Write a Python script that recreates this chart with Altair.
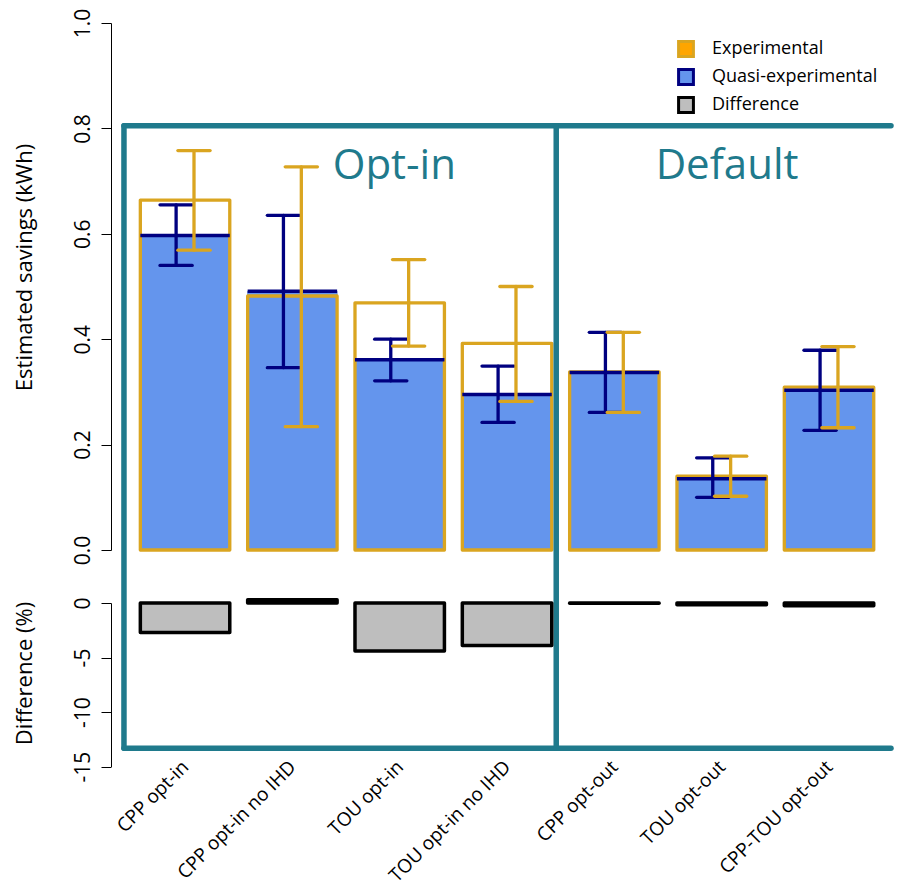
import altair as alt
import pandas as pd

# ---------------- data ----------------
categories = ["CPP opt-in", "CPP opt-in no IHD", "TOU opt-in", "TOU opt-in no IHD",
              "CPP opt-out", "TOU opt-out", "CPP-TOU opt-out"]
exp_est = [0.664, 0.482, 0.469, 0.392, 0.338, 0.140, 0.309]
exp_lo = [0.569, 0.234, 0.387, 0.282, 0.261, 0.102, 0.232]
exp_hi = [0.758, 0.727, 0.551, 0.500, 0.413, 0.178, 0.386]
quasi_est = [0.597, 0.491, 0.361, 0.295, 0.337, 0.135, 0.303]
quasi_lo = [0.540, 0.346, 0.321, 0.242, 0.261, 0.100, 0.227]
quasi_hi = [0.655, 0.635, 0.400, 0.349, 0.413, 0.175, 0.379]
diff_pct = [-2.7, 0.3, -4.4, -3.9, -0.03, -0.15, -0.25]
legend_labels = ["Experimental", "Quasi-experimental", "Difference"]
group_labels = ["Opt-in", "Default"]
top_ticks = [0.0, 0.2, 0.4, 0.6, 0.8, 1.0]
bottom_ticks = [0, -5, -10, -15]

# ---------------- layout / style ----------------
n = len(categories)
pos = [0.7 + 1.2 * i for i in range(n)]          # barplot midpoints (width 1, space 0.2)
X_MIN, X_MAX = -0.128, 8.593
W = 780
H_TOP, H_BOT = 527, 163.5
TEAL = "#1f7a8c"
GOLD = "#daa520"
NAVY = "#000080"
BLUE = "#6495ed"
GREY = "#bebebe"
FONT = "Open Sans"

bars = pd.DataFrame({
    "cat": categories, "pos": pos,
    "exp": exp_est, "exp_lo": exp_lo, "exp_hi": exp_hi,
    "q": quasi_est, "q_lo": quasi_lo, "q_hi": quasi_hi,
    "diff": diff_pct,
})

xs = alt.Scale(domain=[X_MIN, X_MAX], nice=False, zero=False)
ys_top = alt.Scale(domain=[0, 1], nice=False, zero=False)
ys_bot = alt.Scale(domain=[-15, 0], nice=False, zero=False)

base = alt.Chart(bars).transform_calculate(
    xl="datum.pos - 0.5", xr="datum.pos + 0.5",
    xq="datum.pos - 0.1", xe="datum.pos + 0.1",
    cq1="datum.pos - 0.1 - 0.18", cq2="datum.pos - 0.1 + 0.18",
    ce1="datum.pos + 0.1 - 0.18", ce2="datum.pos + 0.1 + 0.18",
)

yaxis_top = alt.Axis(
    values=top_ticks, format=".1f", title="Estimated savings (kWh)",
    titleX=-87, titleY=244, titleAngle=270, titleAlign="center", titleBaseline="middle",
    labelAngle=270, labelAlign="center", labelBaseline="bottom", labelPadding=8,
    tickSize=10, labelFontSize=21, titleFontSize=22,
)

blue = base.mark_rect(fill=BLUE, stroke="#5a7fd0", strokeWidth=0.8).encode(
    x=alt.X("xl:Q", scale=xs, axis=None), x2="xr:Q",
    y=alt.Y("q:Q", scale=ys_top, axis=yaxis_top), y2=alt.datum(0),
)
gold_rect = base.mark_rect(fillOpacity=0, stroke=GOLD, strokeWidth=3.3, strokeJoin="round").encode(
    x="xl:Q", x2="xr:Q", y="exp:Q", y2=alt.datum(0),
)
navy_top = base.mark_rule(color=NAVY, strokeWidth=3.5).encode(
    x="xl:Q", x2="xr:Q", y="q:Q",
)
navy_err = base.mark_rule(color=NAVY, strokeWidth=3.3, strokeCap="round").encode(
    x="xq:Q", y="q_lo:Q", y2="q_hi:Q",
)
navy_caps = base.transform_fold(["q_lo", "q_hi"], as_=["k", "v"]).mark_rule(
    color=NAVY, strokeWidth=3.3, strokeCap="round").encode(
    x="cq1:Q", x2="cq2:Q", y="v:Q",
)
gold_err = base.mark_rule(color=GOLD, strokeWidth=3.3, strokeCap="round").encode(
    x="xe:Q", y="exp_lo:Q", y2="exp_hi:Q",
)
gold_caps = base.transform_fold(["exp_lo", "exp_hi"], as_=["k", "v"]).mark_rule(
    color=GOLD, strokeWidth=3.3, strokeCap="round").encode(
    x="ce1:Q", x2="ce2:Q", y="v:Q",
)

# frame around the two groups (drawn in the upper panel's units, reaching down over the lower panel)
BOX_TOP, BOX_BOTTOM, BOX_LEFT, BOX_MID = 0.805, -0.376, 0.017, 4.85
box = pd.DataFrame({
    "x": [BOX_LEFT, BOX_LEFT, BOX_LEFT, BOX_MID],
    "x2": [X_MAX, X_MAX, BOX_LEFT, BOX_MID],
    "y": [BOX_TOP, BOX_BOTTOM, BOX_TOP, BOX_TOP],
    "y2": [BOX_TOP, BOX_BOTTOM, BOX_BOTTOM, BOX_BOTTOM],
})
frame = alt.Chart(box).mark_rule(color=TEAL, strokeWidth=5.5, strokeCap="round").encode(
    x="x:Q", x2="x2:Q", y="y:Q", y2="y2:Q",
)

groups = pd.DataFrame({"label": group_labels, "gx": [3.04, 6.76]})
group_text = alt.Chart(groups).mark_text(
    font=FONT, fontSize=42, color=TEAL, align="center", baseline="alphabetic").encode(
    x="gx:Q", y=alt.datum(0.704), text="label:N",
)

legend_kw = dict(
    orient="none", legendX=566, legendY=17, title=None, symbolType="square",
    symbolSize=220, symbolStrokeWidth=3, symbolOpacity=1, labelFont=FONT, labelFontSize=18,
    labelOffset=17, rowPadding=0, padding=0, labelColor="black", labelLimit=0,
)
leg = pd.DataFrame({"series": legend_labels})
legend_layer = alt.Chart(leg).transform_filter("false").mark_square(size=220, opacity=1).encode(
    fill=alt.Fill("series:N", scale=alt.Scale(domain=legend_labels, range=["#ffa500", BLUE, GREY]),
                  legend=alt.Legend(**legend_kw)),
    stroke=alt.Stroke("series:N", scale=alt.Scale(domain=legend_labels, range=[GOLD, NAVY, "black"]),
                      legend=alt.Legend(**legend_kw)),
)

top = alt.layer(blue, gold_rect, navy_top, navy_err, navy_caps, gold_err, gold_caps,
                frame, group_text, legend_layer).properties(width=W, height=H_TOP)

label_expr = "[" + ",".join("'" + c + "'" for c in categories) + "][round((datum.value - 0.7) / 1.2)]"
xaxis = alt.Axis(
    values=pos, labelExpr=label_expr, ticks=False, domain=False, grid=False,
    labelAngle=315, labelAlign="right", labelBaseline="middle", labelPadding=-3,
    labelFontSize=19, labelOverlap=False, labelLimit=0, title=None,
)
yaxis_bot = alt.Axis(
    values=bottom_ticks, labelExpr="'' + datum.value", title="Difference (%)",
    titleX=-87, titleY=70, titleAngle=270, titleAlign="center", titleBaseline="middle",
    labelAngle=270, labelAlign="center", labelBaseline="bottom", labelPadding=8,
    tickSize=10, labelFontSize=21, titleFontSize=22,
)
bottom = base.mark_rect(fill=GREY, stroke="black", strokeWidth=3.5, strokeJoin="round").encode(
    x=alt.X("xl:Q", scale=xs, axis=xaxis), x2="xr:Q",
    y=alt.Y("diff:Q", scale=ys_bot, axis=yaxis_bot), y2=alt.datum(0),
).properties(width=W, height=H_BOT)

chart = alt.vconcat(top, bottom, spacing=53, bounds="flush").properties(
    padding={"left": 5, "top": 0, "right": 0, "bottom": 0}
).configure_view(stroke=None).configure_axis(
    domainColor="black", tickColor="black", labelColor="black", titleColor="black",
    labelFont=FONT, titleFont=FONT, grid=False, titleFontWeight="normal",
    domainWidth=1, tickWidth=1,
)

chart.save("out.html", embed_options={"renderer": "svg", "actions": False})
